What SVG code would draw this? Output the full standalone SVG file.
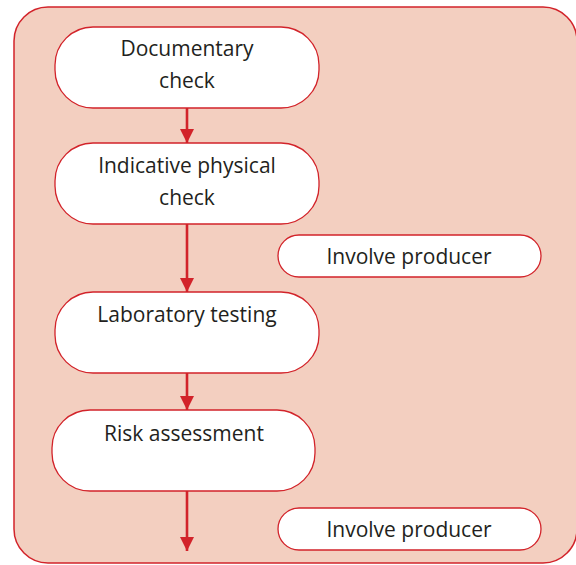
<svg xmlns="http://www.w3.org/2000/svg" width="576" height="565" viewBox="0 0 576 565">
<style>
.frame{fill:#F3CFC0;stroke:#D2232A;stroke-width:1.5}
.node{fill:#FFFFFF;stroke:#D2232A;stroke-width:1.3}
.t{font-family:"Open Sans","Liberation Sans",sans-serif;font-size:21px;fill:#231F20;text-anchor:middle}
.conn{stroke:#D2232A;stroke-width:2.6;fill:none}
</style>
<defs>
<marker id="ah" markerUnits="userSpaceOnUse" markerWidth="14" markerHeight="16" refX="14" refY="7" orient="auto">
<path d="M0,0 L14,7 L0,14 Z" fill="#D2232A"/>
</marker>
</defs>
<rect class="frame" x="14" y="7" width="563" height="556" rx="34" ry="34"/>
<g id="connectors">
<line class="conn" x1="187" y1="108" x2="187" y2="143" marker-end="url(#ah)"/>
<line class="conn" x1="187" y1="224" x2="187" y2="292" marker-end="url(#ah)"/>
<line class="conn" x1="187" y1="373" x2="187" y2="410" marker-end="url(#ah)"/>
<line class="conn" x1="187" y1="491" x2="187" y2="551" marker-end="url(#ah)"/>
</g>
<g id="n1"><rect class="node" x="55" y="27" width="264" height="81" rx="38"/><text class="t" x="187" y="56">Documentary</text><text class="t" x="187" y="88">check</text></g>
<g id="n2"><rect class="node" x="55" y="143" width="264" height="81" rx="38"/><text class="t" x="187" y="173">Indicative physical</text><text class="t" x="187" y="205">check</text></g>
<g id="n3"><rect class="node" x="278" y="235" width="263" height="42" rx="21"/><text class="t" x="409" y="264">Involve producer</text></g>
<g id="n4"><rect class="node" x="55" y="292" width="264" height="81" rx="38"/><text class="t" x="187" y="322">Laboratory testing</text></g>
<g id="n5"><rect class="node" x="52" y="410" width="263" height="81" rx="38"/><text class="t" x="184" y="441">Risk assessment</text></g>
<g id="n6"><rect class="node" x="278" y="508" width="263" height="42" rx="21"/><text class="t" x="409" y="537">Involve producer</text></g>
</svg>
